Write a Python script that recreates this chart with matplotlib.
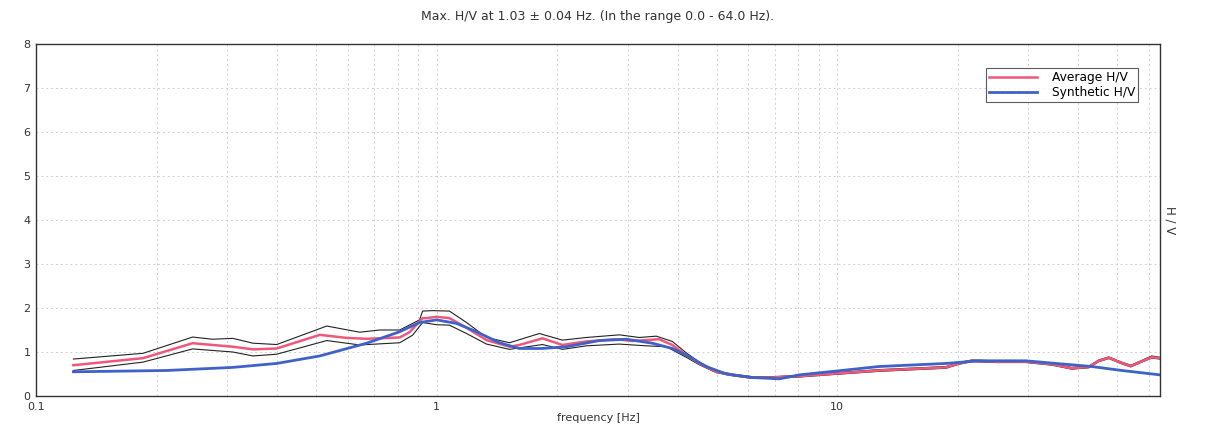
import numpy as np
import matplotlib
matplotlib.use("Agg")
import matplotlib.pyplot as plt
from matplotlib.ticker import FixedLocator, NullFormatter

# ---------------------------------------------------------------------------
# Data (frequency in Hz, H/V ratio)
# ---------------------------------------------------------------------------
avg_freq = [0.124, 0.185, 0.246, 0.31, 0.348, 0.399, 0.511, 0.597, 0.669,
            0.809, 0.856, 0.923, 0.944, 1.0, 1.077, 1.188, 1.333, 1.521,
            1.61, 1.838, 2.062, 2.366, 2.811, 3.082, 3.598, 3.877, 4.202,
            4.529, 4.993, 5.473, 6.138, 6.886, 8.04, 9.55, 12.73, 18.7,
            20.15, 21.71, 24.92, 29.6, 34.4, 38.5, 42.5, 45.0, 47.7, 51.0,
            54.1, 58.0, 61.0, 64.0]
avg_hv = [0.70, 0.86, 1.20, 1.12, 1.06, 1.08, 1.39, 1.32, 1.30,
          1.33, 1.45, 1.77, 1.77, 1.80, 1.77, 1.55, 1.27, 1.12,
          1.16, 1.31, 1.16, 1.24, 1.29, 1.25, 1.29, 1.16, 0.93,
          0.74, 0.55, 0.48, 0.42, 0.42, 0.45, 0.50, 0.58, 0.65,
          0.74, 0.80, 0.78, 0.78, 0.72, 0.63, 0.66, 0.80, 0.87, 0.76,
          0.68, 0.80, 0.88, 0.86]

upper_freq = [0.124, 0.185, 0.246, 0.276, 0.31, 0.348, 0.399, 0.532, 0.643,
              0.721, 0.809, 0.907, 0.923, 0.977, 1.077, 1.188, 1.333, 1.521,
              1.806, 2.062, 2.366, 2.86, 3.208, 3.537, 3.877, 4.202, 4.529,
              4.993, 5.473, 6.138, 6.886, 8.04, 9.55, 12.73, 18.7, 20.15,
              21.71, 24.92, 29.6, 34.4, 38.5, 42.5, 45.0, 47.7, 51.0, 54.1,
              58.0, 61.0, 64.0]
upper_hv = [0.84, 0.97, 1.34, 1.29, 1.31, 1.20, 1.17, 1.59, 1.45,
            1.50, 1.50, 1.73, 1.93, 1.94, 1.93, 1.67, 1.33, 1.21,
            1.42, 1.27, 1.33, 1.39, 1.33, 1.36, 1.24, 0.98, 0.77,
            0.57, 0.50, 0.44, 0.44, 0.47, 0.52, 0.60, 0.67, 0.76,
            0.82, 0.80, 0.80, 0.74, 0.65, 0.68, 0.82, 0.89, 0.78, 0.70,
            0.82, 0.91, 0.88]

lower_freq = [0.124, 0.185, 0.246, 0.31, 0.348, 0.399, 0.532, 0.643, 0.809,
              0.871, 0.923, 1.0, 1.077, 1.188, 1.333, 1.521, 1.838, 2.062,
              2.366, 2.86, 3.34, 3.746, 4.202, 4.529, 4.993, 5.473, 6.138,
              6.886, 8.04, 9.55, 12.73, 18.7, 20.15, 21.71, 24.92, 29.6,
              34.4, 38.5, 42.5, 45.0, 47.7, 51.0, 54.1, 58.0, 61.0, 64.0]
lower_hv = [0.58, 0.77, 1.07, 1.00, 0.91, 0.95, 1.26, 1.16, 1.21,
            1.38, 1.67, 1.62, 1.61, 1.42, 1.18, 1.06, 1.17, 1.06,
            1.14, 1.18, 1.14, 1.12, 0.88, 0.71, 0.53, 0.46, 0.40,
            0.40, 0.43, 0.48, 0.56, 0.63, 0.72, 0.78, 0.76, 0.76,
            0.70, 0.61, 0.64, 0.78, 0.85, 0.74, 0.66, 0.78, 0.86, 0.84]

syn_freq = [0.124, 0.212, 0.31, 0.399, 0.511, 0.669, 0.809, 0.907, 1.0,
            1.122, 1.259, 1.436, 1.61, 1.838, 2.11, 2.55, 2.978, 3.457,
            3.877, 4.202, 4.714, 5.288, 6.138, 7.17, 8.04, 9.55, 12.73,
            18.7, 22.6, 29.6, 35.2, 43.2, 51.4, 64.0]
syn_hv = [0.55, 0.58, 0.65, 0.74, 0.91, 1.20, 1.46, 1.67, 1.73,
          1.65, 1.46, 1.21, 1.08, 1.08, 1.12, 1.26, 1.29, 1.20,
          1.08, 0.93, 0.67, 0.50, 0.42, 0.39, 0.48, 0.55, 0.67,
          0.74, 0.80, 0.80, 0.74, 0.67, 0.58, 0.48]

title = "Max. H/V at 1.03 \u00b1 0.04 Hz. (In the range 0.0 - 64.0 Hz)."

# ---------------------------------------------------------------------------
# Plot
# ---------------------------------------------------------------------------
fig = plt.figure(figsize=(12.08, 4.32), dpi=100)
ax = fig.add_axes([36 / 1208, 36 / 432, (1160 - 36) / 1208, (396 - 44) / 432])

ax.plot(upper_freq, upper_hv, color="#222222", linewidth=0.8)
ax.plot(lower_freq, lower_hv, color="#222222", linewidth=0.8)
ax.plot(avg_freq, avg_hv, color="#f0587a", linewidth=1.8, label="Average H/V")
ax.plot(syn_freq, syn_hv, color="#3f62c8", linewidth=2.0, label="Synthetic H/V")

ax.set_xscale("log")
ax.set_xlim(0.1, 64)
ax.set_ylim(0, 8)
ax.set_xticks([0.1, 1, 10])
ax.set_xticklabels(["0.1", "1", "10"])
ax.xaxis.set_minor_locator(FixedLocator(
    [m * d for d in (0.1, 1, 10) for m in range(2, 10) if m * d <= 64]))
ax.xaxis.set_minor_formatter(NullFormatter())
ax.set_yticks(range(0, 9))

ax.tick_params(axis="both", which="both", length=0, labelsize=8,
               colors="#333333", pad=4)
ax.grid(True, which="both", axis="x", color="#d0d0d0",
        linestyle=(0, (2, 3)), linewidth=0.7)
ax.grid(True, which="major", axis="y", color="#d0d0d0",
        linestyle=(0, (2, 3)), linewidth=0.7)

for side in ("left", "bottom", "top", "right"):
    ax.spines[side].set_color("#333333")
    ax.spines[side].set_linewidth(1.0)

ax.set_xlabel("frequency [Hz]", fontsize=8, color="#333333", labelpad=1)
ax.yaxis.set_label_position("right")
ax.set_ylabel("H / V", fontsize=8.5, color="#333333", rotation=-90,
              labelpad=12)
ax.set_title(title, fontsize=9, color="#333333", pad=17)

leg = ax.legend(loc="upper right", fontsize=8.8, frameon=True, fancybox=False,
                borderpad=0.25, labelspacing=0.15, handlelength=3.9,
                handletextpad=1.2, borderaxespad=0,
                bbox_to_anchor=((1138 - 36) / 1124, (396 - 68) / 352))
leg.get_frame().set_edgecolor("#333333")
leg.get_frame().set_linewidth(0.8)
leg.set_zorder(5)

fig.savefig("out.png", dpi=100)
plt.close(fig)
